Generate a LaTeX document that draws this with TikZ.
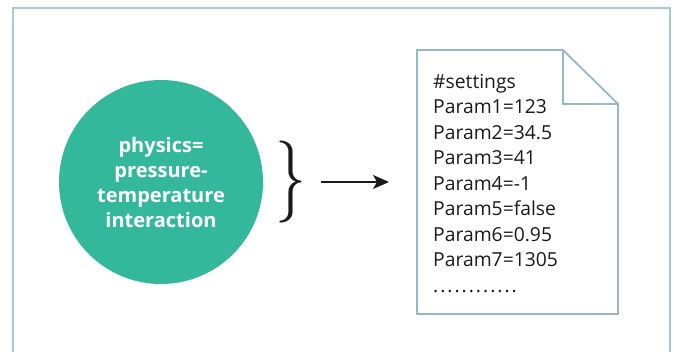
\documentclass[tikz,border=0pt]{standalone}
\usepackage{fontspec}
\usepackage{graphicx}
\setmainfont{Open Sans}
\usetikzlibrary{arrows.meta}
\definecolor{framecol}{HTML}{A9C8D8}
\definecolor{doccol}{HTML}{94B8CC}
\definecolor{teal}{HTML}{34B89C}
\definecolor{inkcol}{HTML}{1A1A1A}
\newcommand\mydotrow{.\kern2pt.\kern2pt.\kern2pt.\kern2pt.\kern2pt.\kern2pt.\kern2pt.\kern2pt.\kern2pt.\kern2pt.\kern2pt.}
\tikzset{
  framebox/.style={draw=framecol,line width=1.3pt},
  docbox/.style={draw=doccol,line width=1.8pt,line join=miter},
  physcircle/.style={circle,fill=teal,minimum size=204pt,inner sep=0pt,
    text=white,align=center,font=\bfseries\fontsize{20}{25}\selectfont},
  doctext/.style={align=left,inner sep=0pt,text=inkcol,
    font=\fontsize{19.3}{25.5}\selectfont},
  bracenode/.style={inner sep=0pt,text=inkcol},
  arrowstyle/.style={draw=inkcol,line width=1.3pt,
    -{Stealth[length=16pt,width=14pt,inset=4pt]}}
}
\begin{document}
\begin{tikzpicture}[x=1pt,y=-1pt]
\useasboundingbox (0,0) rectangle (674,351);
\fill[white] (0,0) rectangle (674,351);
\draw[framebox] (13,360) -- (13,8) -- (670,8) -- (670,360);
\node[physcircle] (phys) at (161,182) {physics=\\pressure-\\temperature\\interaction};
\node[bracenode] (brace) at (291,182) {\scalebox{6.2}[8.2]{$\}$}};
\coordinate (astart) at (321,182);
\coordinate (aend) at (389,182);
\draw[arrowstyle] (astart) -- (aend);
\draw[docbox] (417,50) -- (563,50) -- (618,104) -- (618,314) -- (417,314) -- cycle;
\draw[docbox] (563,50) -- (563,104) -- (618,104);
\node[doctext,anchor=base west] (params) at (433,292) {\#settings\\Param1=123\\Param2=34.5\\Param3=41\\Param4=-1\\Param5=false\\Param6=0.95\\Param7=1305\\\mydotrow};
\end{tikzpicture}
\end{document}
